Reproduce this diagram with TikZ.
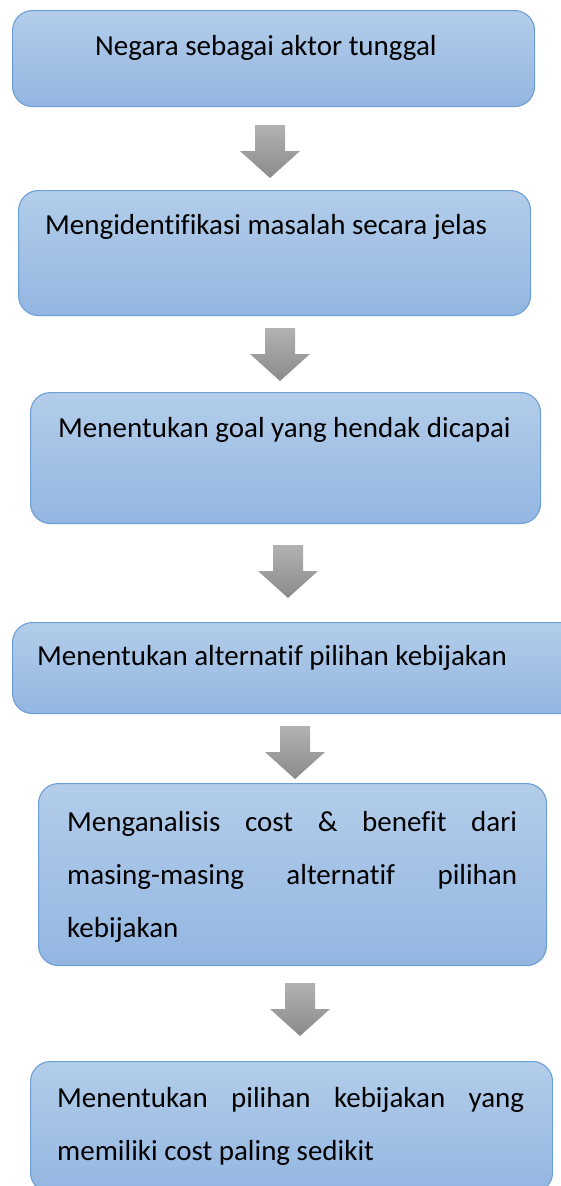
\documentclass[tikz,border=0pt]{standalone}
\usepackage{fontspec}
\setmainfont{Carlito}[Ligatures=NoCommon]
\usepackage{tikz}
\usetikzlibrary{positioning}
\definecolor{boxtop}{HTML}{B3CDEA}
\definecolor{boxbottom}{HTML}{93B6E1}
\definecolor{boxline}{HTML}{6C9ED7}
\definecolor{arrowtop}{HTML}{B2B2B2}
\definecolor{arrowbottom}{HTML}{8A8A8A}
\hyphenpenalty=10000
\exhyphenpenalty=10000
\tikzset{
  stepbox/.style={
    rounded corners=20pt,
    draw=boxline,
    top color=boxtop,
    bottom color=boxbottom,
    line width=1.1pt,
    anchor=north west,
    inner sep=0pt
  },
  steptext/.style={
    inner sep=0pt,
    anchor=base west,
    font=\fontsize{29}{53}\selectfont
  },
  downarrow/.pic={
    \shade[top color=arrowtop, bottom color=arrowbottom]
      (-15,0) -- (15,0) -- (15,-26) -- (30,-26) -- (0,-53)
      -- (-30,-26) -- (-15,-26) -- cycle;
  }
}

\begin{document}
\begin{tikzpicture}[x=1pt,y=1pt]
\useasboundingbox (0,0) rectangle (560,-1186);
% boxes
\node[stepbox, minimum width=522pt, minimum height=96pt] (box1) at (12,-10) {};
\node[stepbox, minimum width=512pt, minimum height=125pt] (box2) at (18,-190) {};
\node[stepbox, minimum width=510pt, minimum height=131pt] (box3) at (30,-392) {};
\node[stepbox, minimum width=575pt, minimum height=91pt] (box4) at (12,-622) {};
\node[stepbox, minimum width=508pt, minimum height=182pt] (box5) at (38,-783) {};
\node[stepbox, minimum width=522pt, minimum height=131pt] (box6) at (30,-1061) {};
% texts
\node[steptext] (txt1) at (95,-55) {Negara sebagai aktor tunggal};
\node[steptext] (txt2) at (45,-234) {Mengidentifikasi masalah secara jelas};
\node[steptext] (txt3) at (58,-437) {Menentukan goal yang hendak dicapai};
\node[steptext] (txt4) at (37,-665) {Menentukan alternatif pilihan kebijakan};
\node[steptext, text width=450pt, align=justify] (txt5) at (67,-831)
  {Menganalisis cost \& benefit dari\linebreak masing-masing alternatif pilihan\linebreak kebijakan};
\node[steptext, text width=467pt, align=justify] (txt6) at (57,-1107)
  {Menentukan pilihan kebijakan yang\linebreak memiliki cost paling sedikit};
% arrows
\pic (arrow1) at (270,-125) {downarrow};
\pic (arrow2) at (280,-328) {downarrow};
\pic (arrow3) at (288,-545) {downarrow};
\pic (arrow4) at (295,-726) {downarrow};
\pic (arrow5) at (300,-983) {downarrow};
\end{tikzpicture}
\end{document}
